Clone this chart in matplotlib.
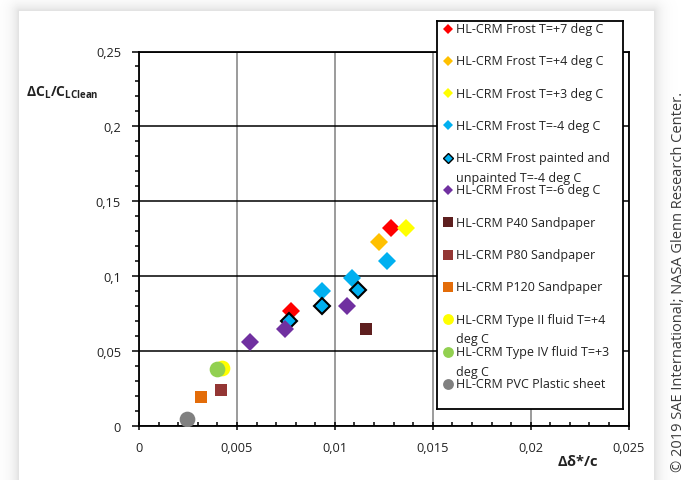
import matplotlib.pyplot as plt
import numpy as np
from matplotlib.ticker import MultipleLocator, FuncFormatter

plt.rcParams['font.family'] = ['Open Sans', 'DejaVu Sans']
plt.rcParams['mathtext.default'] = 'regular'

# delta displacement thickness / chord vs. lift loss, per roughness type
frost_p7_x = [0.00775, 0.01285]
frost_p7_y = [0.0768, 0.1319]
frost_p4_x = [0.01226]
frost_p4_y = [0.1229]
frost_p3_x = [0.01365]
frost_p3_y = [0.1319]
frost_m4_x = [0.00933, 0.01088, 0.01265]
frost_m4_y = [0.0900, 0.0985, 0.1098]
painted_x = [0.00768, 0.00936, 0.01118]
painted_y = [0.0701, 0.0800, 0.0909]
frost_m6_x = [0.00567, 0.00747, 0.01061]
frost_m6_y = [0.0561, 0.0646, 0.0802]
p40_x = [0.01158]
p40_y = [0.0646]
p80_x = [0.0042]
p80_y = [0.0240]
p120_x = [0.00318]
p120_y = [0.0190]
type2_x = [0.00424]
type2_y = [0.0383]
type4_x = [0.00398]
type4_y = [0.0379]
pvc_x = [0.00247]
pvc_y = [0.0045]

labels = ["HL-CRM Frost T=+7 deg C",
          "HL-CRM Frost T=+4 deg C",
          "HL-CRM Frost T=+3 deg C",
          "HL-CRM Frost T=-4 deg C",
          "HL-CRM Frost painted and\nunpainted T=-4 deg C",
          "HL-CRM Frost T=-6 deg C",
          "HL-CRM P40 Sandpaper",
          "HL-CRM P80 Sandpaper",
          "HL-CRM P120 Sandpaper",
          "HL-CRM Type II fluid T=+4\ndeg C",
          "HL-CRM Type IV fluid T=+3\ndeg C",
          "HL-CRM PVC Plastic sheet"]

xs = [frost_p7_x, frost_p4_x, frost_p3_x, frost_m4_x, painted_x, frost_m6_x,
      p40_x, p80_x, p120_x, type2_x, type4_x, pvc_x]
ys = [frost_p7_y, frost_p4_y, frost_p3_y, frost_m4_y, painted_y, frost_m6_y,
      p40_y, p80_y, p120_y, type2_y, type4_y, pvc_y]

colors = ['#ff0000', '#ffc000', '#ffff00', '#00b0f0', '#00b0f0', '#7030a0',
          '#5e1f1f', '#943634', '#e36c09', '#ffff00', '#92d050', '#808080']
markers = ['D', 'D', 'D', 'D', 'D', 'D', 's', 's', 's', 'o', 'o', 'o']
edges = [None, None, None, None, 'black', None, None, None, None, None, None, None]
big = {'D': 9.0, 's': 9.3, 'o': 11.3}
small = {'D': 5.2, 's': 7.6, 'o': 7.8}

W, H = 688, 481
fig = plt.figure(figsize=(W / 100, H / 100), dpi=100)

# page background with a soft drop shadow round the white card
bg = fig.add_axes([0, 0, 1, 1])
yy, xx = np.mgrid[0:H, 0:W]
dx = np.maximum(np.maximum(19 - xx, xx - 653), 0)
dy = np.maximum(12 - yy, 0)
d = np.hypot(dx, dy)
shade = np.where(d > 0, 1 - 0.13 * np.exp(-d / 7.0), 1.0)
bg.imshow(shade, cmap='gray', vmin=0, vmax=1, aspect='auto', interpolation='bilinear')
bg.axis('off')

ax = fig.add_axes([139 / W, 1 - 426.7 / H, 489.6 / W, 374.2 / H])
ax.set_xlim(0, 0.025)
ax.set_ylim(0, 0.25)

for x, y, c, m, e in zip(xs, ys, colors, markers, edges):
    if e:
        ax.plot(x, y, linestyle='none', marker=m, markersize=big[m] - 0.6,
                markerfacecolor=c, markeredgecolor=e, markeredgewidth=1.5, zorder=3)
    else:
        ax.plot(x, y, linestyle='none', marker=m, markersize=big[m],
                color=c, markeredgewidth=0, zorder=3)

ax.xaxis.set_major_locator(MultipleLocator(0.005))
ax.xaxis.set_minor_locator(MultipleLocator(0.001))
ax.yaxis.set_major_locator(MultipleLocator(0.05))
ax.yaxis.set_minor_locator(MultipleLocator(0.01))
fmt = FuncFormatter(lambda v, p: ('%g' % round(v, 6)).replace('.', ','))
ax.xaxis.set_major_formatter(fmt)
ax.yaxis.set_major_formatter(fmt)

ax.grid(axis='y', which='major', color='black', linewidth=1.1)
ax.grid(axis='x', which='major', color='#808080', linewidth=1.1)
ax.set_axisbelow(True)
for s in ax.spines.values():
    s.set_linewidth(1.3)
    s.set_color('black')

ax.tick_params(axis='x', which='major', direction='inout', length=6, width=1.1,
               labelsize=9.2, pad=8, colors='black', labelcolor='#222222')
ax.tick_params(axis='x', which='minor', direction='in', length=3, width=1.1)
ax.tick_params(axis='y', which='major', direction='out', length=5, width=1.1,
               labelsize=9.2, pad=8, labelcolor='#222222')
ax.tick_params(axis='y', which='minor', direction='out', length=3, width=1.1)

fig.text(26 / W, 1 - 93 / H, r'$\Delta C_L/C_{LClean}$', fontsize=10,
         fontweight='bold', va='center', ha='left', color='#222222')
fig.text(557 / W, 1 - 462 / H, r'$\Delta\delta$*/c', fontsize=10.5,
         fontweight='bold', va='center', ha='left', color='#222222')

# legend panel
lw, lh = 186, 388
leg = fig.add_axes([437 / W, 1 - 410 / H, lw / W, lh / H])
leg.set_xlim(0, lw)
leg.set_ylim(lh, 0)
leg.set_xticks([])
leg.set_yticks([])
leg.set_facecolor('white')
for s in leg.spines.values():
    s.set_linewidth(1.3)
    s.set_color('black')

row0, step = 7.5, 32.3
for i, (lab, c, m, e) in enumerate(zip(labels, colors, markers, edges)):
    ry = row0 + step * i
    leg.plot([11], [ry], linestyle='none', marker=m, markersize=small[m],
             markerfacecolor=c, markeredgecolor=e if e else c,
             markeredgewidth=1.0 if e else 0, clip_on=False)
    nl = lab.count('\n')
    leg.text(19.5, ry + 10 * nl, lab, fontsize=9, va='center', ha='left',
             linespacing=1.65, color='#222222')

fig.text(679 / W, 1 - 282 / H, '\u00a9 2019 SAE International; NASA Glenn Research Center.',
         rotation=90, fontsize=10.5, va='center', ha='center', color='#3a3a3a')

fig.savefig('out.png', dpi=100)
